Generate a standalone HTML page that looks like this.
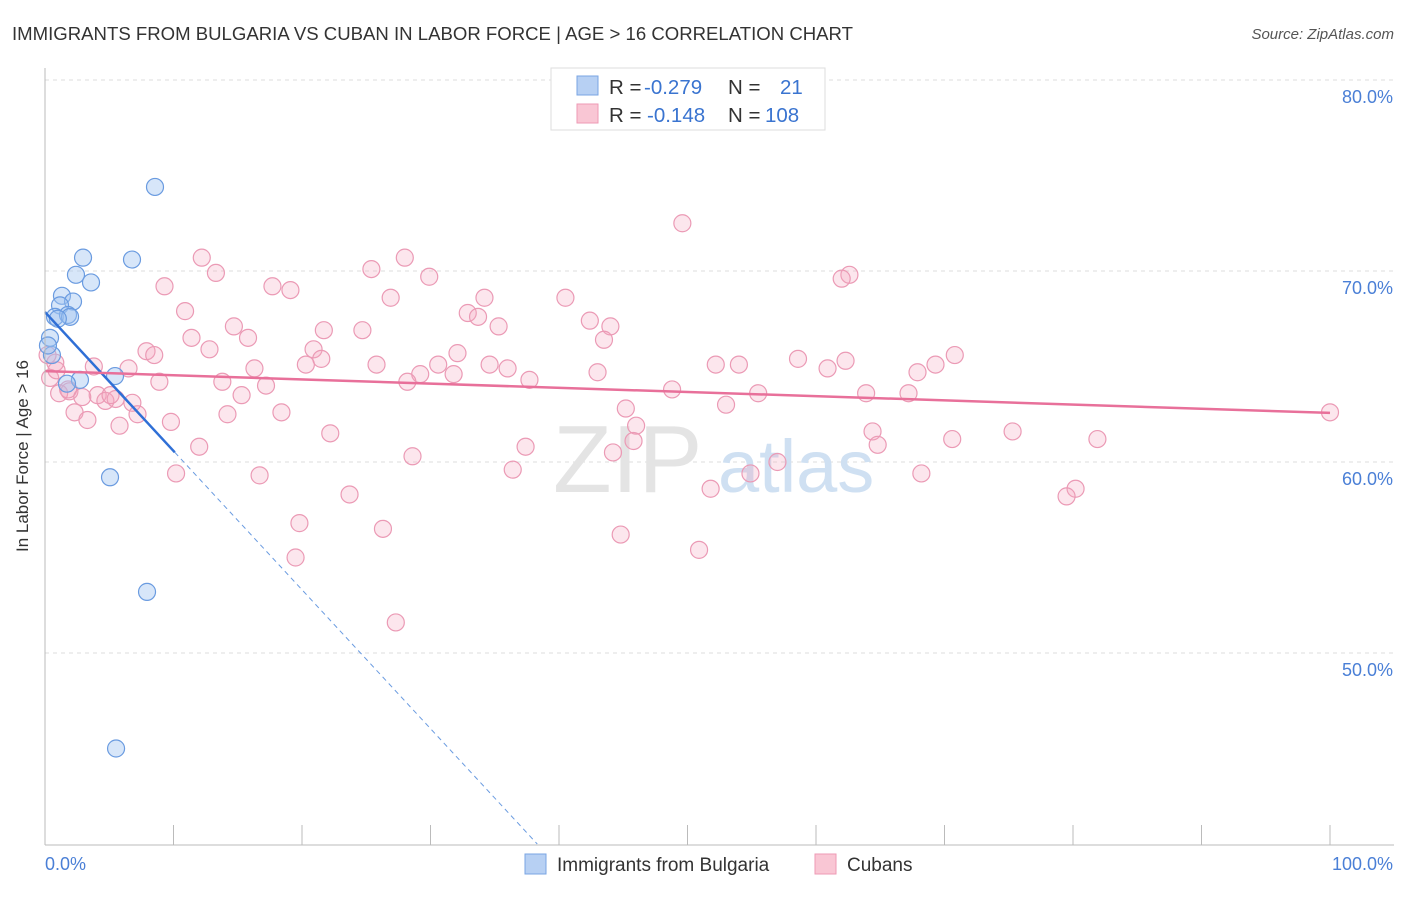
<!DOCTYPE html>
<html><head><meta charset="utf-8"><style>
body{margin:0;background:#fff;font-family:"Liberation Sans",sans-serif;}
svg text{font-family:"Liberation Sans",sans-serif;}
</style></head><body>
<svg id="chart" width="1406" height="892">
<text x="12" y="40" font-size="18.5" fill="#333" textLength="841" lengthAdjust="spacingAndGlyphs">IMMIGRANTS FROM BULGARIA VS CUBAN IN LABOR FORCE | AGE &gt; 16 CORRELATION CHART</text>
<text x="1394" y="39" font-size="15" fill="#555" font-style="italic" text-anchor="end">Source: ZipAtlas.com</text>
<g id="grid"></g>
<g><text x="553" y="492" font-size="96" font-family="Liberation Serif" fill="#e4e4e4">ZIP</text><text x="718" y="492" font-size="74" fill="#cfe0f2">atlas</text></g>
<g id="pts"></g>
<g id="lines"></g>
<line x1="45" y1="68" x2="45" y2="845" stroke="#bbb"/>
<line x1="45" y1="845" x2="1394" y2="845" stroke="#bbb"/>
<g id="ticks"></g>
<text x="28" y="456" font-size="17" fill="#333" text-anchor="middle" transform="rotate(-90 28 456)">In Labor Force | Age &gt; 16</text>
<text x="45" y="870" font-size="18" fill="#4a7fd6">0.0%</text>
<text x="1393" y="870" font-size="18" fill="#4a7fd6" text-anchor="end">100.0%</text>
<g>
<rect x="551" y="68" width="274" height="62" fill="#fff" stroke="#ddd"/>
<rect x="577" y="76" width="21" height="19" fill="#b7d0f3" stroke="#7aa5e3"/>
<rect x="577" y="104" width="21" height="19" fill="#f9c6d4" stroke="#ee9ab4"/>
<text x="609" y="94" font-size="20.5" fill="#333">R = <tspan x="644" fill="#3a74d0">-0.279</tspan></text>
<text x="728" y="94" font-size="20.5" fill="#333">N = <tspan x="780" fill="#3a74d0">21</tspan></text>
<text x="609" y="122" font-size="20.5" fill="#333">R = <tspan x="647" fill="#3a74d0">-0.148</tspan></text>
<text x="728" y="122" font-size="20.5" fill="#333">N = <tspan x="765" fill="#3a74d0">108</tspan></text>
</g>
<g>
<rect x="525" y="854" width="21" height="20" fill="#b7d0f3" stroke="#7aa5e3"/>
<text x="557" y="871" font-size="19" fill="#333">Immigrants from Bulgaria</text>
<rect x="815" y="854" width="21" height="20" fill="#f9c6d4" stroke="#ee9ab4"/>
<text x="847" y="871" font-size="19" fill="#333">Cubans</text>
</g>
</svg>
<script>
const yTicks=[80,70,60,50];
const yTickLabels=["80.0%","70.0%","60.0%","50.0%"];
const xTicks=[0,10,20,30,40,50,60,70,80,90,100];
const blueX=[8.56,2.96,6.77,2.41,3.58,1.32,2.18,1.17,0.78,1.79,1.95,0.39,0.54,5.45,2.72,1.71,5.06,7.94,5.53,0.23,1.0];
const blueY=[74.4,70.7,70.6,69.8,69.4,68.7,68.4,68.2,67.6,67.7,67.6,66.5,65.6,64.5,64.3,64.1,59.2,53.2,45.0,66.1,67.5];
const pinkX=[49.6,28.0,12.2,25.4,13.3,29.9,62.6,62.0,9.3,17.7,19.1,26.9,34.2,40.5,32.9,33.7,10.9,14.7,21.7,24.7,35.3,42.4,44.0,43.5,11.4,15.8,7.9,8.5,12.8,20.9,21.5,32.1,58.6,52.2,54.0,62.3,70.8,69.3,20.3,25.8,30.6,34.6,36.0,3.8,6.5,16.3,60.9,67.9,43.0,31.8,29.2,28.2,37.7,8.9,13.8,17.2,48.8,55.5,63.9,67.2,1.9,1.1,4.1,4.7,5.5,6.8,15.3,53.0,45.2,2.3,7.2,14.2,18.4,3.3,5.8,9.8,46.0,64.4,22.2,37.4,12.0,45.8,44.2,64.8,70.6,75.3,81.9,100.0,28.6,57.0,36.4,54.9,68.2,10.2,16.7,23.7,51.8,80.2,79.5,19.8,26.3,44.8,50.9,19.5,27.3,0.8,0.4,0.2,0.9,1.8,2.9,5.1];
const pinkY=[72.5,70.7,70.7,70.1,69.9,69.7,69.8,69.6,69.2,69.2,69.0,68.6,68.6,68.6,67.8,67.6,67.9,67.1,66.9,66.9,67.1,67.4,67.1,66.4,66.5,66.5,65.8,65.6,65.9,65.9,65.4,65.7,65.4,65.1,65.1,65.3,65.6,65.1,65.1,65.1,65.1,65.1,64.9,65.0,64.9,64.9,64.9,64.7,64.7,64.6,64.6,64.2,64.3,64.2,64.2,64.0,63.8,63.6,63.6,63.6,63.7,63.6,63.5,63.2,63.3,63.1,63.5,63.0,62.8,62.6,62.5,62.5,62.6,62.2,61.9,62.1,61.9,61.6,61.5,60.8,60.8,61.1,60.5,60.9,61.2,61.6,61.2,62.6,60.3,60.0,59.6,59.4,59.4,59.4,59.3,58.3,58.6,58.6,58.2,56.8,56.5,56.2,55.4,55.0,51.6,65.2,64.4,65.6,64.8,63.8,63.4,63.5];
const blueTrend=[67.85,-0.727];
const pinkTrend=[64.76,-0.0219];
const NS="http://www.w3.org/2000/svg";
const X=v=>45+v*12.85;
const Y=v=>80+(80-v)*19.1;
function mk(tag,attrs,parent){const e=document.createElementNS(NS,tag);for(const k in attrs)e.setAttribute(k,attrs[k]);parent.appendChild(e);return e;}
const grid=document.getElementById('grid'),ticks=document.getElementById('ticks'),pts=document.getElementById('pts'),lines=document.getElementById('lines');
yTicks.forEach((t,i)=>{
 const l=mk('line',{x1:45,x2:1394,y1:Y(t),y2:Y(t),stroke:'#ddd','stroke-dasharray':'4 4'},grid);
 
 
 const tx=mk('text',{x:1393,y:Y(t)+23,'font-size':18,fill:'#4a7fd6','text-anchor':'end'},ticks);
 tx.textContent=yTickLabels[i];
 
 
});
xTicks.forEach(t=>{
 const l=mk('line',{x1:X(t),x2:X(t),y1:825,y2:845,stroke:'#bbb'},ticks);
 
 
});
pinkX.forEach((x,i)=>{
 const c=mk('circle',{cx:X(x),cy:Y(pinkY[i]),r:8.5,fill:'rgba(244,164,190,0.28)',stroke:'#eb9ab5','stroke-width':1.2},pts);
 
 
});
blueX.forEach((x,i)=>{
 const c=mk('circle',{cx:X(x),cy:Y(blueY[i]),r:8.5,fill:'rgba(160,195,240,0.42)',stroke:'#6a9be0','stroke-width':1.2},pts);
 
 
});
const bx2=(40-blueTrend[0])/blueTrend[1];
const bd=mk('line',{x1:X(10.1),y1:Y(blueTrend[0]+blueTrend[1]*10.1),x2:X(bx2),y2:Y(40),stroke:'#6a9be0','stroke-width':1,'stroke-dasharray':'5 4'},lines);


const bl=mk('line',{x1:X(0),y1:Y(blueTrend[0]),x2:X(10.1),y2:Y(blueTrend[0]+blueTrend[1]*10.1),stroke:'#2f6fd6','stroke-width':2.5},lines);


const pl=mk('line',{x1:X(0),y1:Y(pinkTrend[0]),x2:X(100),y2:Y(pinkTrend[0]+pinkTrend[1]*100),stroke:'#e8709a','stroke-width':2.5},lines);


</script>
</body></html>
